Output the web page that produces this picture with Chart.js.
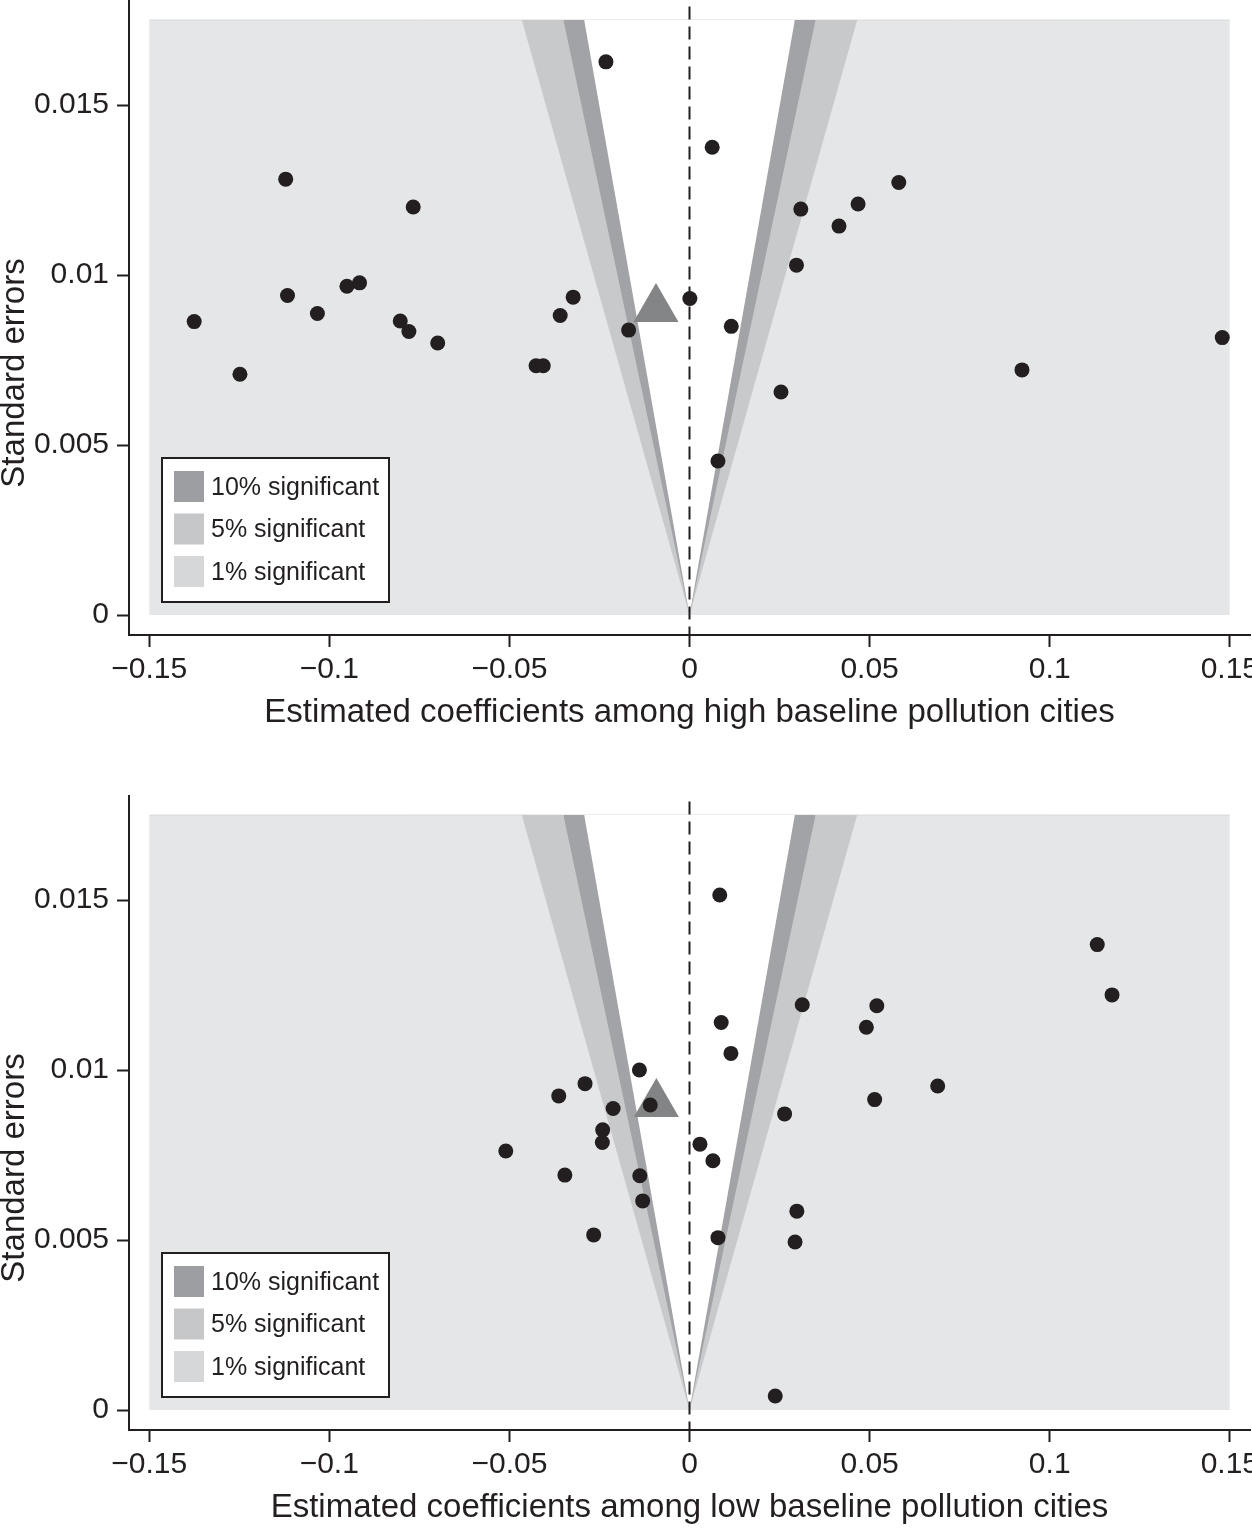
<!DOCTYPE html>
<html>
<head>
<meta charset="utf-8">
<script src="https://cdn.jsdelivr.net/npm/chart.js@4.4.0/dist/chart.umd.min.js"></script>
<style>
  html, body { margin: 0; padding: 0; background: #fff; overflow: hidden; }
  .panel { position: absolute; left: 0; width: 1252px; height: 736px; }
  #top { top: 0; }
  #bottom { top: 795px; }
</style>
</head>
<body>
<div class="panel" id="top"><canvas id="chartHigh"></canvas></div>
<div class="panel" id="bottom"><canvas id="chartLow"></canvas></div>
<script>
// tick labels
const xTickValues = [-0.15, -0.1, -0.05, 0, 0.05, 0.1, 0.15];
const xTickLabels = ["\u22120.15", "\u22120.1", "\u22120.05", "0", "0.05", "0.1", "0.15"];
const yTickValues = [0, 0.005, 0.01, 0.015];
const yTickLabels = ["0", "0.005", "0.01", "0.015"];

// high baseline pollution cities
const highCoef = [-0.1375, -0.1248, -0.1121, -0.1116, -0.1033, -0.0951, -0.0916, -0.0803, -0.0779, -0.0767,
  -0.0699, -0.0426, -0.0406, -0.0359, -0.0323, -0.0232, -0.0169, 0.0001, 0.0063, 0.0079,
  0.0116, 0.0254, 0.0297, 0.0309, 0.0415, 0.0468, 0.0581, 0.0923, 0.1479];
const highSE = [0.00863, 0.00708, 0.01282, 0.00940, 0.00887, 0.00967, 0.00977, 0.00865, 0.00834, 0.01200,
  0.00800, 0.00733, 0.00733, 0.00881, 0.00935, 0.01627, 0.00838, 0.00931, 0.01376, 0.00453,
  0.00849, 0.00656, 0.01029, 0.01194, 0.01144, 0.01209, 0.01272, 0.00721, 0.00816];
const highMean = [-0.0093, 0.0090];

// low baseline pollution cities
const lowCoef = [-0.0510, -0.0363, -0.0346, -0.0290, -0.0266, -0.0242, -0.0241, -0.0212, -0.0139, -0.0138,
  -0.0130, -0.0109, 0.0029, 0.0065, 0.0079, 0.0084, 0.0088, 0.0115, 0.0238, 0.0264,
  0.0293, 0.0298, 0.0313, 0.0491, 0.0514, 0.0520, 0.0689, 0.1132, 0.1173];
const lowSE = [0.00762, 0.00924, 0.00691, 0.00960, 0.00515, 0.00787, 0.00824, 0.00887, 0.01000, 0.00689,
  0.00615, 0.00897, 0.00782, 0.00733, 0.00507, 0.01515, 0.01140, 0.01049, 0.00041, 0.00871,
  0.00494, 0.00585, 0.01192, 0.01126, 0.00913, 0.01189, 0.00953, 0.01369, 0.01221];
const lowMean = [-0.0092, 0.0090];

// significance bands: critical values for 1%, 5%, 10%
const critValues = [2.66, 2.0, 1.671];
const legendLabels = ["10% significant", "5% significant", "1% significant"];
const seTop = 0.0175;
const coefEdge = 0.15;

const FONT = "'Liberation Sans', Arial, Helvetica, sans-serif";
const INK = "#231f20";
const BG = "#e5e6e8";
const bandColors = ["#c8c9cb", "#a2a3a6", "#ffffff"];
const swatchColors = ["#9d9ea1", "#c6c7c9", "#d6d7d9"];

const xMin = -0.1556, xMax = 0.1556;
const yMin = -0.000588, yMax = 0.01809;

// legend box + y title drawn on the canvas
const panelDecor = {
  id: "panelDecor",
  afterDraw(chart) {
    const ctx = chart.ctx;
    ctx.save();
    // y axis title
    ctx.translate(15, 373);
    ctx.rotate(-Math.PI / 2);
    ctx.font = "33px " + FONT;
    ctx.fillStyle = INK;
    ctx.textAlign = "center";
    ctx.textBaseline = "middle";
    ctx.fillText("Standard errors", 0, 0);
    ctx.restore();

    ctx.save();
    ctx.fillStyle = "#ffffff";
    ctx.fillRect(162, 458, 227, 144);
    ctx.strokeStyle = INK;
    ctx.lineWidth = 2;
    ctx.strokeRect(162, 458, 227, 144);
    ctx.font = "25px " + FONT;
    ctx.textBaseline = "middle";
    ctx.textAlign = "left";
    legendLabels.forEach((lab, i) => {
      const y = 471 + i * 42.5;
      ctx.fillStyle = swatchColors[i];
      ctx.fillRect(174, y, 30, 31);
      ctx.fillStyle = INK;
      ctx.fillText(lab, 211, y + 17);
    });
    ctx.restore();
  }
};

function makeChart(canvasId, coef, se, mean, xTitle) {
  const points = coef.map((c, i) => ({ x: c, y: se[i] }));
  const bands = critValues.map((t, i) => ({
    type: "line",
    data: [
      { x: -t * seTop, y: seTop },
      { x: 0, y: 0 },
      { x: t * seTop, y: seTop }
    ],
    fill: { value: seTop },
    backgroundColor: bandColors[i],
    borderWidth: 0,
    pointRadius: 0,
    tension: 0,
    order: 9 - i
  }));

  return new Chart(document.getElementById(canvasId), {
    type: "scatter",
    data: {
      datasets: [
        {
          type: "line",
          data: [{ x: -coefEdge, y: seTop }, { x: coefEdge, y: seTop }],
          fill: { value: 0 },
          backgroundColor: BG,
          borderColor: "#d8d9db",
          borderWidth: 1,
          pointRadius: 0,
          order: 10
        },
        ...bands,
        {
          type: "line",
          data: [{ x: 0, y: 0.0179 }, { x: 0, y: yMin }],
          borderColor: INK,
          borderWidth: 2,
          borderDash: [13, 7],
          pointRadius: 0,
          fill: false,
          order: 6
        },
        {
          data: [{ x: mean[0], y: mean[1] }],
          pointStyle: "triangle",
          pointRadius: 26,
          backgroundColor: "#838486",
          borderWidth: 0,
          order: 5
        },
        {
          data: points,
          pointStyle: "circle",
          pointRadius: 7.5,
          backgroundColor: INK,
          borderWidth: 0,
          order: 4
        }
      ]
    },
    options: {
      responsive: true,
      maintainAspectRatio: false,
      animation: false,
      events: [],
      layout: { autoPadding: false, padding: { top: 0, right: 2, left: 0, bottom: 0 } },
      plugins: { legend: { display: false }, tooltip: { enabled: false } },
      scales: {
        x: {
          type: "linear",
          min: xMin,
          max: xMax,
          afterBuildTicks: (s) => { s.ticks = xTickValues.map((v) => ({ value: v })); },
          afterFit: (s) => { s.height = 101; s.paddingLeft = 0; s.paddingRight = 0; },
          ticks: {
            callback: (v, i) => xTickLabels[i],
            font: { family: FONT, size: 30 },
            color: INK,
            padding: 5,
            maxRotation: 0,
            autoSkip: false
          },
          grid: { drawOnChartArea: false, drawTicks: true, tickLength: 12, tickWidth: 2, tickColor: INK },
          border: { display: true, color: INK, width: 2 },
          title: {
            display: true,
            text: xTitle,
            font: { family: FONT, size: 33 },
            color: INK,
            padding: { top: 0, bottom: 3 }
          }
        },
        y: {
          type: "linear",
          min: yMin,
          max: yMax,
          afterBuildTicks: (s) => { s.ticks = yTickValues.map((v) => ({ value: v })); },
          afterFit: (s) => { s.width = 129; s.paddingTop = 0; s.paddingBottom = 0; },
          ticks: {
            callback: (v, i) => yTickLabels[i],
            font: { family: FONT, size: 30 },
            color: INK,
            padding: 8,
            autoSkip: false
          },
          grid: { drawOnChartArea: false, drawTicks: true, tickLength: 12, tickWidth: 2, tickColor: INK },
          border: { display: true, color: INK, width: 2 }
        }
      }
    },
    plugins: [panelDecor]
  });
}

makeChart("chartHigh", highCoef, highSE, highMean, "Estimated coefficients among high baseline pollution cities");
makeChart("chartLow", lowCoef, lowSE, lowMean, "Estimated coefficients among low baseline pollution cities");
</script>
</body>
</html>
